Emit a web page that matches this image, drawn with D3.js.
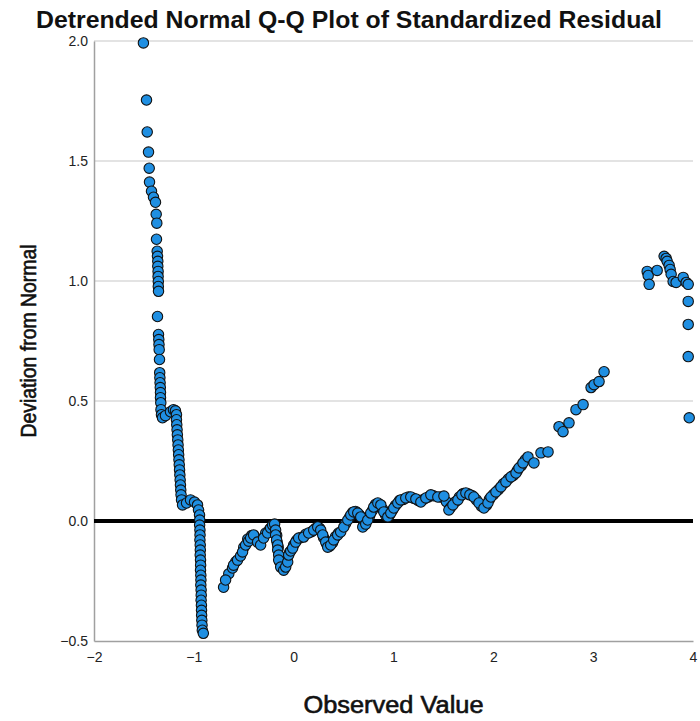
<!DOCTYPE html>
<html>
<head>
<meta charset="utf-8">
<script src="https://cdn.jsdelivr.net/npm/d3@7"></script>
<style>
  body { margin: 0; background: #fff; }
  svg { display: block; font-family: "Liberation Sans", Arial, sans-serif; }
</style>
</head>
<body>
<svg id="qq" width="700" height="721"></svg>
<script>
const upperTail = [
  [-1.505, 1.992], [-1.474, 1.754], [-1.467, 1.621], [-1.454, 1.537], [-1.447, 1.470],
  [-1.444, 1.412], [-1.424, 1.374], [-1.404, 1.349], [-1.384, 1.328], [-1.377, 1.278],
  [-1.371, 1.241], [-1.374, 1.174], [-1.367, 1.124], [-1.364, 1.103], [-1.361, 1.082],
  [-1.361, 1.061], [-1.358, 1.040], [-1.358, 1.019], [-1.356, 0.998], [-1.356, 0.977],
  [-1.354, 0.957], [-1.364, 0.852], [-1.354, 0.777], [-1.351, 0.756], [-1.349, 0.735],
  [-1.347, 0.714], [-1.344, 0.673], [-1.342, 0.618], [-1.340, 0.597], [-1.338, 0.576],
  [-1.336, 0.556], [-1.334, 0.535], [-1.334, 0.514], [-1.331, 0.493], [-1.329, 0.464],
  [-1.324, 0.443], [-1.314, 0.430]
];

const kneeDrop = [
  [-1.284, 0.439], [-1.234, 0.455], [-1.204, 0.464], [-1.184, 0.459], [-1.174, 0.443],
  [-1.174, 0.422], [-1.171, 0.401], [-1.168, 0.380], [-1.165, 0.359], [-1.161, 0.338],
  [-1.158, 0.317], [-1.155, 0.296], [-1.152, 0.276], [-1.149, 0.255], [-1.146, 0.234],
  [-1.143, 0.213], [-1.140, 0.192], [-1.137, 0.171], [-1.134, 0.150], [-1.131, 0.129],
  [-1.128, 0.109], [-1.123, 0.088], [-1.113, 0.067], [-1.073, 0.075], [-1.033, 0.088],
  [-0.993, 0.079], [-0.963, 0.067], [-0.953, 0.046], [-0.943, 0.025], [-0.941, 0.004],
  [-0.942, -0.017], [-0.939, -0.038], [-0.938, -0.058], [-0.939, -0.079], [-0.936, -0.100],
  [-0.935, -0.121], [-0.936, -0.142], [-0.933, -0.163], [-0.932, -0.184], [-0.933, -0.205],
  [-0.930, -0.226], [-0.929, -0.246], [-0.930, -0.267], [-0.927, -0.288], [-0.926, -0.309],
  [-0.927, -0.330], [-0.924, -0.351], [-0.923, -0.372], [-0.922, -0.393], [-0.920, -0.414],
  [-0.918, -0.434], [-0.915, -0.455], [-0.905, -0.468]
];

const middleBand = [
  [-0.702, -0.276], [-0.682, -0.246], [-0.612, -0.196], [-0.602, -0.184], [-0.562, -0.163],
  [-0.532, -0.146], [-0.512, -0.129], [-0.481, -0.100], [-0.451, -0.084], [-0.431, -0.071],
  [-0.401, -0.058], [-0.361, -0.088], [-0.331, -0.100], [-0.301, -0.071], [-0.261, -0.050],
  [-0.231, -0.029], [-0.211, -0.017], [-0.191, -0.013], [-0.181, -0.038], [-0.181, -0.058],
  [-0.171, -0.079], [-0.160, -0.100], [-0.160, -0.121], [-0.150, -0.142], [-0.150, -0.163],
  [-0.130, -0.192], [-0.100, -0.205], [-0.080, -0.192], [-0.060, -0.171], [-0.050, -0.142],
  [-0.030, -0.125], [-0.010, -0.113], [0.020, -0.088], [0.050, -0.071], [0.100, -0.067],
  [0.150, -0.050], [0.201, -0.038], [0.241, -0.025], [0.271, -0.038], [0.291, -0.058],
  [0.321, -0.088], [0.341, -0.109], [0.371, -0.100], [0.401, -0.079], [0.441, -0.058],
  [0.471, -0.046], [0.502, -0.025], [0.542, 0.004], [0.572, 0.025], [0.602, 0.038],
  [0.642, 0.033], [0.672, 0.017], [0.692, -0.025], [0.722, -0.013], [0.742, 0.004],
  [0.772, 0.033], [0.802, 0.058], [0.843, 0.075], [0.873, 0.067], [0.903, 0.038],
  [0.943, 0.017], [0.973, 0.033], [1.003, 0.054], [1.043, 0.075], [1.073, 0.088],
  [1.123, 0.096], [1.173, 0.100], [1.224, 0.092], [1.274, 0.079], [1.324, 0.096],
  [1.374, 0.109], [1.444, 0.100], [1.505, 0.104], [1.555, 0.046], [1.595, 0.067],
  [1.645, 0.088], [1.685, 0.109], [1.725, 0.117], [1.765, 0.109], [1.805, 0.100],
  [1.856, 0.075], [1.906, 0.054], [1.946, 0.075], [1.976, 0.100]
];

// second row of the thick overlapping band
const middleBandInner = [
  [-0.650, -0.220], [-0.580, -0.170], [-0.500, -0.110], [-0.460, -0.075], [-0.420, -0.060],
  [-0.380, -0.070], [-0.280, -0.050], [-0.240, -0.035], [-0.200, -0.020], [-0.170, -0.060],
  [-0.165, -0.090], [-0.155, -0.110], [-0.140, -0.170], [-0.090, -0.190], [-0.040, -0.130],
  [0.000, -0.100], [0.030, -0.080], [0.070, -0.070], [0.120, -0.055], [0.180, -0.045],
  [0.220, -0.030], [0.260, -0.030], [0.300, -0.070], [0.330, -0.095], [0.360, -0.105],
  [0.390, -0.090], [0.420, -0.065], [0.450, -0.050], [0.520, -0.010], [0.560, 0.015],
  [0.590, 0.035], [0.620, 0.040], [0.660, 0.025], [0.700, -0.020], [0.760, 0.020],
  [0.790, 0.045], [0.820, 0.070], [0.860, 0.070], [0.890, 0.050], [0.920, 0.025],
  [0.960, 0.025], [0.990, 0.045], [1.020, 0.065], [1.060, 0.085], [1.100, 0.090],
  [1.150, 0.100], [1.200, 0.095], [1.250, 0.085], [1.300, 0.090], [1.350, 0.100],
  [1.400, 0.105], [1.470, 0.100], [1.530, 0.080], [1.570, 0.055], [1.620, 0.080],
  [1.660, 0.100], [1.700, 0.115], [1.750, 0.112], [1.790, 0.105], [1.830, 0.088],
  [1.880, 0.062], [1.930, 0.065], [1.960, 0.090], [2.000, 0.110], [2.050, 0.130],
  [2.100, 0.155], [2.150, 0.175], [2.200, 0.190], [2.240, 0.210], [2.280, 0.230],
  [2.320, 0.255]
];

const upperRise = [
  [2.026, 0.121], [2.076, 0.142], [2.126, 0.163], [2.177, 0.184], [2.227, 0.200],
  [2.257, 0.221], [2.297, 0.242], [2.347, 0.267], [2.407, 0.242], [2.477, 0.284],
  [2.548, 0.288], [2.658, 0.393], [2.698, 0.372], [2.758, 0.409], [2.828, 0.464],
  [2.899, 0.485], [2.979, 0.556], [3.009, 0.568], [3.059, 0.581], [3.109, 0.622]
];

const rightCluster = [
  [3.541, 1.040], [3.551, 1.023], [3.561, 0.986], [3.641, 1.044], [3.711, 1.103],
  [3.731, 1.094], [3.741, 1.082], [3.761, 1.065], [3.771, 1.048], [3.781, 1.028],
  [3.801, 0.998], [3.831, 0.994], [3.902, 1.015], [3.932, 0.994], [3.952, 0.986],
  [3.952, 0.915], [3.952, 0.819], [3.952, 0.685], [3.962, 0.430]
];

const xTicks = [-2, -1, 0, 1, 2, 3, 4];
const yTicks = [-0.5, 0.0, 0.5, 1.0, 1.5, 2.0];

const points = [].concat(upperTail, kneeDrop, middleBandInner, middleBand, upperRise, rightCluster);

const margin = {top: 41, right: 7, bottom: 80, left: 94};
const width = 700 - margin.left - margin.right;
const height = 721 - margin.top - margin.bottom;

const svg = d3.select("#qq");
const g = svg.append("g")
    .attr("transform", `translate(${margin.left},${margin.top})`);

const x = d3.scaleLinear().domain([-2, 4]).range([0, width]);
const y = d3.scaleLinear().domain([-0.5, 2.0]).range([height, 0]);

// grid lines
g.append("g")
    .selectAll("line")
    .data(yTicks.filter(d => d > 0))
    .enter()
    .append("line")
    .attr("x1", 0)
    .attr("x2", width)
    .attr("y1", d => y(d))
    .attr("y2", d => y(d))
    .attr("stroke", "#c8c8c8")
    .attr("stroke-width", 1.2);

// axes
const yAxis = g.append("g")
    .call(d3.axisLeft(y).tickValues(yTicks).tickFormat(d3.format(".1f")).tickSize(0).tickPadding(6));
yAxis.select(".domain").attr("stroke", "#a0a0a0").attr("stroke-width", 1.5);
yAxis.selectAll("text").style("font-size", "14px").style("fill", "#222");

const xAxis = g.append("g")
    .attr("transform", `translate(0, ${height})`)
    .call(d3.axisBottom(x).tickValues(xTicks).tickFormat(d3.format("d")).tickSize(0).tickPadding(11));
xAxis.select(".domain").attr("stroke", "#a0a0a0").attr("stroke-width", 1.5);
xAxis.selectAll("text").style("font-size", "14px").style("fill", "#222");

// zero reference line
g.append("line")
    .attr("x1", 0)
    .attr("x2", width)
    .attr("y1", y(0))
    .attr("y2", y(0))
    .attr("stroke", "#000")
    .attr("stroke-width", 4);

// points
g.append("g")
    .selectAll("circle")
    .data(points)
    .enter()
    .append("circle")
    .attr("cx", d => x(d[0]))
    .attr("cy", d => y(d[1]))
    .attr("r", 5.2)
    .attr("fill", "#1f8fe2")
    .attr("stroke", "#111")
    .attr("stroke-width", 1.1);

// title and axis labels
svg.append("text")
    .attr("x", 349)
    .attr("y", 28)
    .attr("text-anchor", "middle")
    .attr("textLength", 626)
    .attr("lengthAdjust", "spacingAndGlyphs")
    .style("font-size", "24px")
    .style("font-weight", "bold")
    .style("fill", "#111")
    .text("Detrended Normal Q-Q Plot of Standardized Residual");

svg.append("text")
    .attr("x", margin.left + width / 2)
    .attr("y", 713)
    .attr("text-anchor", "middle")
    .attr("textLength", 180)
    .attr("lengthAdjust", "spacingAndGlyphs")
    .style("font-size", "23px")
    .style("fill", "#111")
    .style("stroke", "#111")
    .style("stroke-width", 0.6)
    .text("Observed Value");

svg.append("text")
    .attr("transform", `translate(36, ${margin.top + height / 2}) rotate(-90)`)
    .attr("text-anchor", "middle")
    .attr("textLength", 193)
    .attr("lengthAdjust", "spacingAndGlyphs")
    .style("font-size", "22px")
    .style("fill", "#111")
    .style("stroke", "#111")
    .style("stroke-width", 0.6)
    .text("Deviation from Normal");
</script>
</body>
</html>
